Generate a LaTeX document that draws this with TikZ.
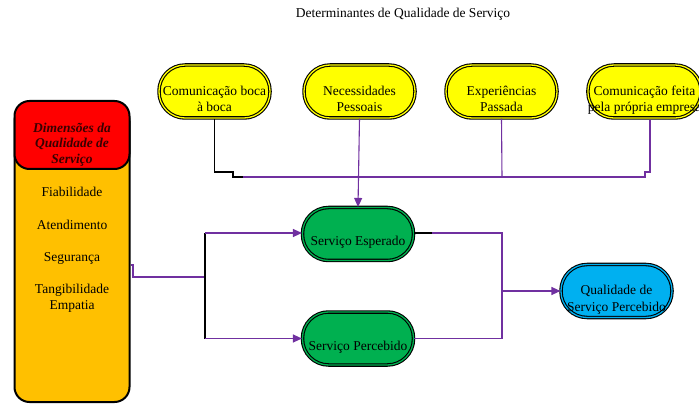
\documentclass[tikz,border=0pt]{standalone}
\usepackage{fontspec}
\setmainfont{Liberation Serif}
\usetikzlibrary{arrows.meta}
\definecolor{amarelo}{HTML}{FFFF00}
\definecolor{verde}{HTML}{00B050}
\definecolor{azul}{HTML}{00B0F0}
\definecolor{laranja}{HTML}{FFC000}
\definecolor{vermelho}{HTML}{FF0000}
\definecolor{roxo}{HTML}{7030A0}
\definecolor{vinho}{HTML}{3A0000}
\begin{document}
\begin{tikzpicture}[x=1pt,y=-1pt,
    font=\fontsize{13.5}{16.5}\selectfont,
    pill/.style={draw=black,line width=1.1pt,double distance=1.3pt,
      rounded corners=26pt,minimum width=111pt,minimum height=53pt,
      align=center,inner sep=0pt},
    topo/.style={pill,fill=amarelo,double=amarelo,text height=41pt,text depth=0pt},
    meio/.style={pill,fill=verde,double=verde,text height=24pt,text depth=0pt},
    fim/.style={pill,fill=azul,double=azul,text height=40pt,text depth=0pt},
    bloco/.style={draw,line width=2pt,rounded corners=15pt,minimum width=115pt},
    liga/.style={roxo,line width=1.1pt},
    seta/.style={liga,-{Triangle[length=9pt,width=8pt]}}]
      \useasboundingbox (0,0) rectangle (699,406);
      \clip (0,0) rectangle (699,406);
      \draw
        (403,14) node (titulo){Determinantes de Qualidade de Serviço}
        (214.5,91.5) node[topo] (boca){Comunicação boca\\à boca}
        (359.5,91.5) node[topo] (pessoais){Necessidades\\Pessoais}
        (501.5,91.5) node[topo] (passada){Experiências\\Passada}
        (644.5,91.5) node[topo] (empresa){Comunicação feita\\pela própria empresa}
        (358,234) node[meio] (esperado){Serviço Esperado}
        (358,338.5) node[meio] (percebido){Serviço Percebido}
        (616.5,291) node[fim] (qualidade){Qualidade de\\Serviço Percebido};
      % dimensoes
      \draw
        (72,254) node[bloco,fill=laranja,minimum height=296pt] (corpo){}
        (72,135) node[bloco,fill=vermelho,minimum height=68pt,align=center,
          font=\fontsize{13.5}{15.5}\selectfont\bfseries\itshape,text=vinho,
          text height=57pt,text depth=0pt] (cabeca){Dimensões da\\Qualidade de\\Serviço}
        (72,309.5) node[align=center,text height=0pt,text depth=0pt] (lista)
          {Fiabilidade\\[16pt]Atendimento\\[15.5pt]Segurança\\[15.5pt]Tangibilidade\\Empatia};
      \coordinate (ramo) at (205,277);
      \coordinate (junta) at (502,291);
      \begin{scope}
        \draw[line width=1.1pt] (boca.south) |- (233,172) -- (233,177) -- (243,177);
        \draw[liga] (243,177) -- (645,177) -- (645,172) -- (650,172) -- (650,120);
        \draw[liga] (passada.south) -- (502,177);
        \draw[seta] (pessoais.south) -- (esperado.north);
        \draw[liga] (corpo.east |- 0,265) -- (133,265) -- (133,277) -- (ramo);
        \draw[line width=1.1pt] (205,233) -- (205,338.5);
        \draw[seta] (205,233) -- (esperado.west |- 0,233);
        \draw[seta] (205,338.5) -- (percebido.west);
        \draw[line width=1.1pt] (esperado.east |- 0,233) -- (432,233);
        \draw[liga] (432,233) -- (502,233) -- (502,338.5) -- (percebido.east);
        \draw[seta] (junta) -- (qualidade.west);
      \end{scope}
\end{tikzpicture}
\end{document}
